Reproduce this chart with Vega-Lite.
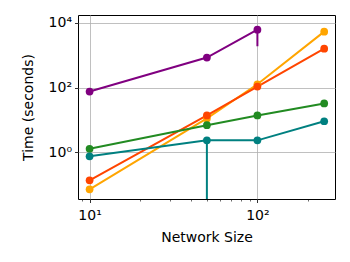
{
  "$schema": "https://vega.github.io/schema/vega-lite/v6.json",
  "autosize": "none",
  "padding": {"left": 78, "top": 15, "right": 15, "bottom": 63},
  "width": 257,
  "height": 184,
  "background": "white",
  "config": {
    "view": {"stroke": "#000000", "strokeWidth": 1},
    "font": "DejaVu Sans",
    "axis": {
      "domain": false,
      "tickColor": "#000000",
      "labelColor": "#000000",
      "titleColor": "#000000",
      "labelFont": "DejaVu Sans",
      "titleFont": "DejaVu Sans",
      "labelFontSize": 14,
      "titleFontSize": 14,
      "titleFontWeight": "normal",
      "gridColor": "#b0b0b0",
      "gridWidth": 0.8
    }
  },
  "data": {
    "values": [
      {"series": "S1", "size": 10, "time": 75},
      {"series": "S1", "size": 50, "time": 850},
      {"series": "S1", "size": 100, "time": 6200, "lo": 1900, "hi": 8000},
      {"series": "S2", "size": 10, "time": 0.07},
      {"series": "S2", "size": 50, "time": 11},
      {"series": "S2", "size": 100, "time": 126},
      {"series": "S2", "size": 250, "time": 5400},
      {"series": "S3", "size": 10, "time": 0.133},
      {"series": "S3", "size": 50, "time": 13.6},
      {"series": "S3", "size": 100, "time": 107},
      {"series": "S3", "size": 250, "time": 1600},
      {"series": "S4", "size": 10, "time": 1.26},
      {"series": "S4", "size": 50, "time": 6.8},
      {"series": "S4", "size": 100, "time": 13.6},
      {"series": "S4", "size": 250, "time": 32},
      {"series": "S5", "size": 10, "time": 0.74},
      {"series": "S5", "size": 50, "time": 2.3, "lo": 0.0001, "hi": 2.6},
      {"series": "S5", "size": 100, "time": 2.3},
      {"series": "S5", "size": 250, "time": 9}
    ]
  },
  "encoding": {
    "x": {
      "field": "size",
      "type": "quantitative",
      "scale": {"type": "log", "domain": [8.53, 290], "nice": false},
      "axis": {
        "title": "Network Size",
        "values": [9, 10, 20, 30, 40, 50, 60, 70, 80, 90, 100, 200],
        "labelExpr": "datum.value == 10 ? '10¹' : (datum.value == 100 ? '10²' : '')",
        "tickSize": {"condition": {"test": "datum.value == 10 || datum.value == 100", "value": 3.5}, "value": 2},
        "tickWidth": {"condition": {"test": "datum.value == 10 || datum.value == 100", "value": 0.8}, "value": 0.6},
        "gridOpacity": {"condition": {"test": "datum.value == 10 || datum.value == 100", "value": 1}, "value": 0},
        "labelPadding": 6,
        "titlePadding": 8,
        "labelFlush": false,
        "labelOverlap": false
      }
    },
    "color": {
      "field": "series",
      "type": "nominal",
      "scale": {"domain": ["S1", "S2", "S3", "S4", "S5"], "range": ["#800080", "#FFA500", "#FF4500", "#228B22", "#008080"]},
      "legend": null
    }
  },
  "layer": [
    {
      "mark": {"type": "rule", "strokeWidth": 2, "clip": true},
      "transform": [{"filter": "isValid(datum.lo)"}],
      "encoding": {
        "y": {"field": "lo", "type": "quantitative", "scale": {"type": "log", "domain": [0.035, 17700], "nice": false}},
        "y2": {"field": "hi"}
      }
    },
    {
      "mark": {"type": "line", "strokeWidth": 2, "clip": true},
      "encoding": {
        "y": {
          "field": "time",
          "type": "quantitative",
          "scale": {"type": "log", "domain": [0.035, 17700], "nice": false},
          "axis": {
            "title": "Time (seconds)",
            "values": [1, 100, 10000],
            "labelExpr": "datum.value == 1 ? '10⁰' : (datum.value == 100 ? '10²' : '10⁴')",
            "tickSize": 3.5,
            "tickWidth": 0.8,
            "labelPadding": 3,
            "titlePadding": 13,
            "labelFlush": false,
            "labelOverlap": false
          }
        }
      }
    },
    {
      "mark": {"type": "circle", "size": 60, "opacity": 1, "clip": true},
      "encoding": {
        "y": {"field": "time", "type": "quantitative"}
      }
    }
  ]
}
